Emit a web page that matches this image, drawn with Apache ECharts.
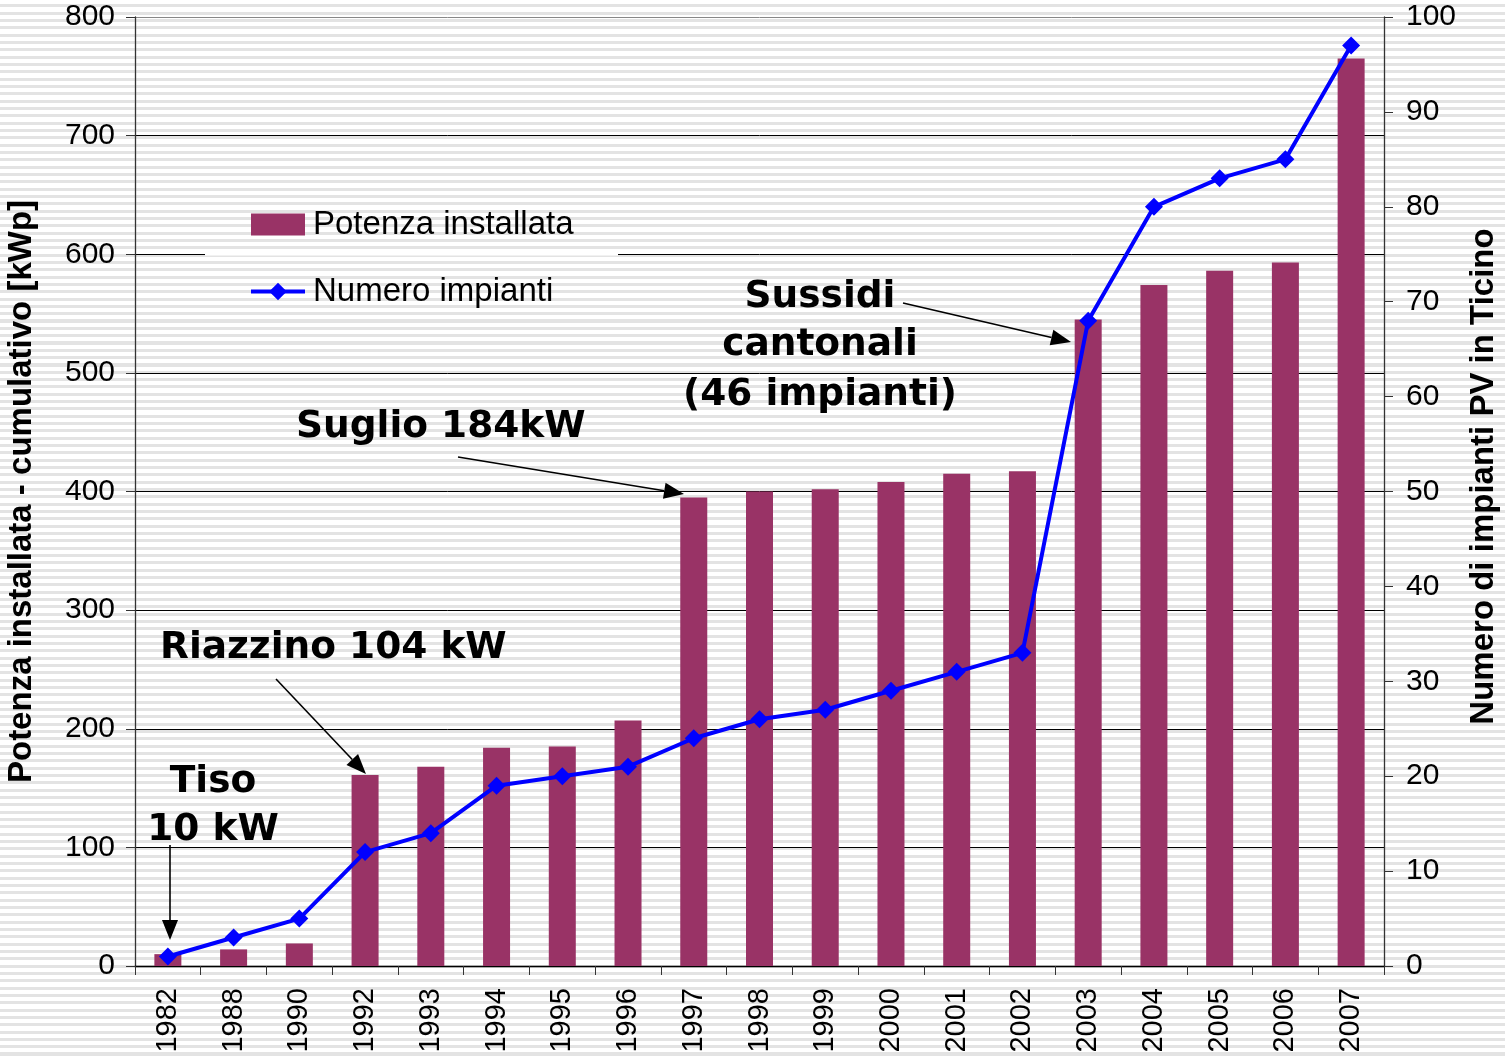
<!DOCTYPE html>
<html>
<head>
<meta charset="utf-8">
<script src="https://cdn.jsdelivr.net/npm/echarts@6/dist/echarts.min.js"></script>
<style>
	html, body {
		margin: 0;
		padding: 0;
		background: repeating-linear-gradient(to bottom, #ffffff 0px, #ffffff 4.3px, #e3e3e3 4.3px, #e3e3e3 7.33px);
	}
	#chart {
		width: 1505px;
		height: 1060px;
	}
</style>
</head>
<body>
<div id="chart"></div>
<script>
const years = [
	'1982', '1988', '1990', '1992', '1993', '1994', '1995', '1996', '1997', '1998',
	'1999', '2000', '2001', '2002', '2003', '2004', '2005', '2006', '2007'
];
// kWp cumulativo
const potenza = [10, 14, 19, 161, 168, 184, 185, 207, 395, 400, 402, 408, 415, 417, 545, 574, 586, 593, 765];
// numero impianti
const impianti = [1, 3, 5, 12, 14, 19, 20, 21, 24, 26, 27, 29, 31, 33, 68, 80, 83, 85, 97];

const annotFont = 'bold 37.5px "DejaVu Sans", Verdana, sans-serif';
const arial = '"Liberation Sans", Arial, sans-serif';

var chart = echarts.init(document.getElementById('chart'));

// annotation arrows [x1, y1, x2, y2]
const arrows = [
	[170, 845, 170, 940],
	[276, 679, 366, 774],
	[458, 457, 684, 494],
	[903, 303, 1071, 342]
];

function arrowGraphic(a) {
	let ang = Math.atan2(a[3] - a[1], a[2] - a[0]);
	let len = 20, w = 8;
	let bx = a[2] - len * Math.cos(ang), by = a[3] - len * Math.sin(ang);
	let px = -Math.sin(ang) * w, py = Math.cos(ang) * w;
	return [
		{
			type: 'line',
			shape: { x1: a[0], y1: a[1], x2: bx, y2: by },
			style: { stroke: '#000', lineWidth: 1.6 },
			z: 100
		},
		{
			type: 'polygon',
			shape: { points: [[a[2], a[3]], [bx + px, by + py], [bx - px, by - py]] },
			style: { fill: '#000' },
			z: 100
		}
	];
}

let graphics = [];
arrows.forEach((a) => { graphics = graphics.concat(arrowGraphic(a)); });

// legend hides the 600 gridline behind it
graphics.push({
	type: 'rect',
	shape: { x: 205, y: 252.5, width: 413, height: 3 },
	style: { fill: '#ffffff' },
	z: 50
});

const texts = [
	{ t: 'Tiso', x: 213, y: 782, align: 'center' },
	{ t: '10 kW', x: 213, y: 830, align: 'center' },
	{ t: 'Riazzino 104 kW', x: 160, y: 648, align: 'left' },
	{ t: 'Suglio 184kW', x: 296, y: 427, align: 'left' },
	{ t: 'Sussidi', x: 820, y: 297, align: 'center' },
	{ t: 'cantonali', x: 820, y: 345, align: 'center' },
	{ t: '(46 impianti)', x: 820, y: 395, align: 'center' }
];
texts.forEach((o) => {
	graphics.push({
		type: 'text',
		x: o.x,
		y: o.y,
		style: {
			text: o.t,
			font: annotFont,
			fill: '#000',
			textAlign: o.align,
			textVerticalAlign: 'middle'
		},
		z: 100
	});
});

var option = {
	backgroundColor: 'transparent',
	animation: false,
	grid: {
		left: 135,
		right: 121,
		top: 17,
		bottom: 94,
		containLabel: false,
		outerBoundsMode: 'none'
	},
	legend: {
		orient: 'vertical',
		left: 244,
		top: 203,
		itemWidth: 54,
		itemHeight: 22,
		itemGap: 34,
		z: 60,
		textStyle: {
			fontFamily: arial,
			fontSize: 33,
			color: '#000',
			padding: [0, 0, 0, 3]
		},
		data: [
			{ name: 'Potenza installata', icon: 'rect' },
			{ name: 'Numero impianti', lineStyle: { width: 4 } }
		]
	},
	xAxis: {
		type: 'category',
		data: years,
		axisLine: { lineStyle: { color: '#000', width: 1.3 } },
		axisTick: { show: true, length: 9, interval: 0, lineStyle: { color: '#333' } },
		axisLabel: {
			rotate: 90,
			interval: 0,
			margin: 22,
			fontFamily: arial,
			fontSize: 29,
			color: '#000'
		}
	},
	yAxis: [
		{
			type: 'value',
			min: 0,
			max: 800,
			interval: 100,
			name: 'Potenza installata - cumulativo [kWp]',
			nameLocation: 'middle',
			nameRotate: 90,
			nameGap: 97,
			nameTextStyle: {
				fontFamily: arial,
				fontWeight: 'bold',
				fontSize: 33,
				color: '#000'
			},
			axisLine: { show: true, lineStyle: { color: '#333', width: 1.3 } },
			axisTick: { show: true, length: 9, lineStyle: { color: '#333' } },
			axisLabel: {
				margin: 20,
				fontFamily: arial,
				fontSize: 30,
				color: '#000'
			},
			splitLine: {
				show: true,
				lineStyle: {
					color: ['#000', '#000', '#000', '#000', '#000', '#000', '#000', '#000', '#888'],
					width: 1
				}
			}
		},
		{
			type: 'value',
			min: 0,
			max: 100,
			interval: 10,
			position: 'right',
			name: 'Numero di impianti PV in Ticino',
			nameLocation: 'middle',
			nameRotate: 90,
			nameGap: 80,
			nameTextStyle: {
				fontFamily: arial,
				fontWeight: 'bold',
				fontSize: 33,
				color: '#000',
				padding: [0, 0, 0, 30]
			},
			axisLine: { show: true, lineStyle: { color: '#333', width: 1.3 } },
			axisTick: { show: true, length: 9, lineStyle: { color: '#333' } },
			axisLabel: {
				margin: 22,
				fontFamily: arial,
				fontSize: 30,
				color: '#000'
			},
			splitLine: { show: false }
		}
	],
	series: [
		{
			name: 'Potenza installata',
			type: 'bar',
			data: potenza,
			barWidth: 27,
			itemStyle: { color: '#993366' },
			z: 2
		},
		{
			name: 'Numero impianti',
			type: 'line',
			yAxisIndex: 1,
			data: impianti,
			symbol: 'diamond',
			symbolSize: 18,
			showSymbol: true,
			lineStyle: { color: '#0000ff', width: 4 },
			itemStyle: { color: '#0000ff' },
			z: 5
		}
	],
	graphic: graphics
};

chart.setOption(option);
</script>
</body>
</html>
